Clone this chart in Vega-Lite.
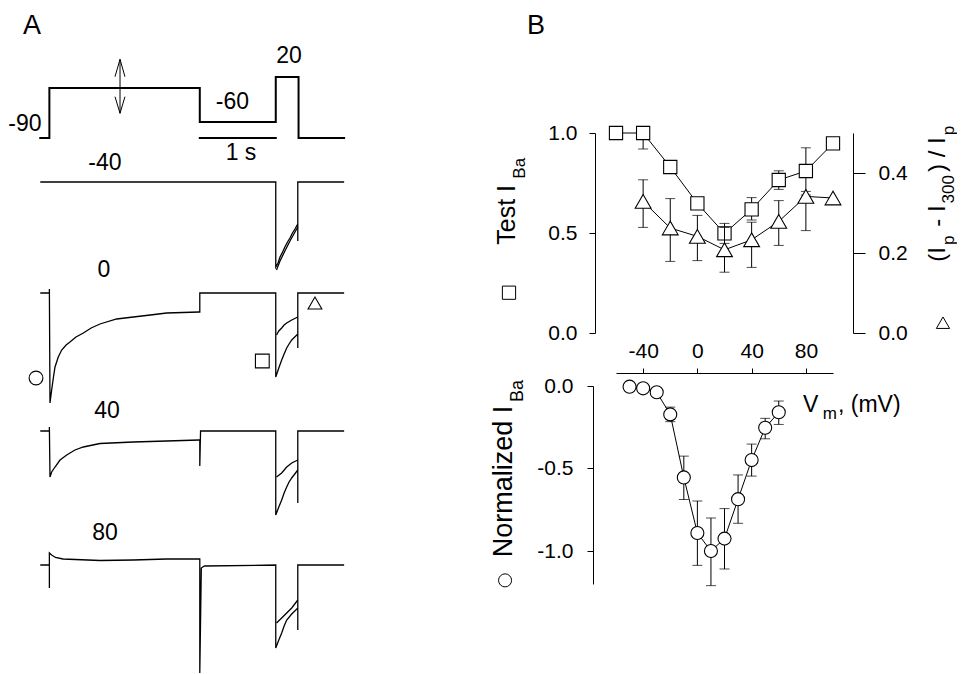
{
"$schema":"https://vega.github.io/schema/vega-lite/v6.json",
"padding":0,
"autosize":{"type":"pad"},
"background":"white",
"bounds":"flush",
"spacing":145,
"config":{"view":{"stroke":null},"font":"Liberation Sans",
 "axis":{"domainColor":"black","tickColor":"black","labelColor":"black","labelFont":"Liberation Sans","labelFontSize":21,"grid":false,"labelOverlap":false,"domainWidth":1,"tickWidth":1},
 "text":{"font":"Liberation Sans","color":"black"}},
"datasets":{
 "proto":[
  {"seg":"p","t":-0.12,"y":536},{"seg":"p","t":0,"y":536},{"seg":"p","t":0,"y":586},{"seg":"p","t":1.98,"y":586},{"seg":"p","t":1.98,"y":552},{"seg":"p","t":2.98,"y":552},{"seg":"p","t":2.98,"y":597},{"seg":"p","t":3.28,"y":597},{"seg":"p","t":3.28,"y":536},{"seg":"p","t":3.88,"y":536},
  {"seg":"s","t":1.98,"y":536},{"seg":"s","t":2.98,"y":536}
 ],
 "arrow":[
  {"seg":"a1","t":0.93,"y":614.7},{"seg":"a1","t":0.93,"y":560.7},
  {"seg":"a2","t":0.864,"y":597.3},{"seg":"a2","t":0.93,"y":614.7},{"seg":"a2","t":0.995,"y":597.3},
  {"seg":"a3","t":0.864,"y":577.3},{"seg":"a3","t":0.93,"y":560.7},{"seg":"a3","t":0.995,"y":577.3}
 ],
 "traces":[
  {"seg":"m40","t":-0.12,"y":492},{"seg":"m40","t":2.98,"y":492},{"seg":"m40","t":2.98,"y":407},{"seg":"m40","t":3.01,"y":411},{"seg":"m40","t":3.036,"y":417},{"seg":"m40","t":3.07,"y":422},{"seg":"m40","t":3.1,"y":427},{"seg":"m40","t":3.135,"y":432},{"seg":"m40","t":3.167,"y":436},{"seg":"m40","t":3.2,"y":441},{"seg":"m40","t":3.233,"y":445},{"seg":"m40","t":3.27,"y":450},{"seg":"m40","t":3.27,"y":433},{"seg":"m40","t":3.27,"y":492},{"seg":"m40","t":3.88,"y":492},
  {"seg":"m40b","t":2.99,"y":404},{"seg":"m40b","t":3.036,"y":413},{"seg":"m40b","t":3.1,"y":423},{"seg":"m40b","t":3.167,"y":433},{"seg":"m40b","t":3.233,"y":442},{"seg":"m40b","t":3.27,"y":447},
  {"seg":"z","t":-0.12,"y":381},{"seg":"z","t":0,"y":381},{"seg":"z","t":0,"y":385},{"seg":"z","t":0.008,"y":271},{"seg":"z","t":0.03,"y":284},{"seg":"z","t":0.052,"y":296},{"seg":"z","t":0.074,"y":307},{"seg":"z","t":0.117,"y":317},{"seg":"z","t":0.162,"y":324},{"seg":"z","t":0.22,"y":329},{"seg":"z","t":0.271,"y":332},{"seg":"z","t":0.35,"y":337},{"seg":"z","t":0.447,"y":341},{"seg":"z","t":0.55,"y":346},{"seg":"z","t":0.666,"y":350},{"seg":"z","t":0.886,"y":355},{"seg":"z","t":1.105,"y":357},{"seg":"z","t":1.33,"y":359},{"seg":"z","t":1.544,"y":361},{"seg":"z","t":1.97,"y":362},{"seg":"z","t":1.98,"y":362},{"seg":"z","t":1.98,"y":381},{"seg":"z","t":2.98,"y":381},{"seg":"z","t":2.98,"y":297},{"seg":"z","t":3.02,"y":306},{"seg":"z","t":3.058,"y":314},{"seg":"z","t":3.09,"y":320},{"seg":"z","t":3.124,"y":326},{"seg":"z","t":3.155,"y":330},{"seg":"z","t":3.19,"y":334},{"seg":"z","t":3.23,"y":337},{"seg":"z","t":3.27,"y":340},{"seg":"z","t":3.27,"y":326},{"seg":"z","t":3.27,"y":381},{"seg":"z","t":3.88,"y":381},
  {"seg":"zb","t":2.99,"y":339},{"seg":"zb","t":3.02,"y":343},{"seg":"zb","t":3.058,"y":346},{"seg":"zb","t":3.09,"y":349},{"seg":"zb","t":3.124,"y":351},{"seg":"zb","t":3.19,"y":354},{"seg":"zb","t":3.27,"y":357},
  {"seg":"f","t":-0.12,"y":243},{"seg":"f","t":0,"y":243},{"seg":"f","t":0,"y":247},{"seg":"f","t":0.008,"y":197},{"seg":"f","t":0.03,"y":202},{"seg":"f","t":0.074,"y":207},{"seg":"f","t":0.14,"y":214},{"seg":"f","t":0.228,"y":219},{"seg":"f","t":0.337,"y":224},{"seg":"f","t":0.447,"y":227},{"seg":"f","t":0.666,"y":230.5},{"seg":"f","t":1.105,"y":232},{"seg":"f","t":1.544,"y":233},{"seg":"f","t":1.97,"y":234},{"seg":"f","t":1.98,"y":234},{"seg":"f","t":1.98,"y":208},{"seg":"f","t":1.99,"y":243},{"seg":"f","t":2.98,"y":243},{"seg":"f","t":2.98,"y":159},{"seg":"f","t":3.02,"y":167},{"seg":"f","t":3.058,"y":174},{"seg":"f","t":3.09,"y":181},{"seg":"f","t":3.124,"y":187},{"seg":"f","t":3.155,"y":192},{"seg":"f","t":3.19,"y":196},{"seg":"f","t":3.23,"y":200},{"seg":"f","t":3.27,"y":204},{"seg":"f","t":3.27,"y":171},{"seg":"f","t":3.27,"y":243},{"seg":"f","t":3.88,"y":243},
  {"seg":"fb","t":2.99,"y":197},{"seg":"fb","t":3.058,"y":201},{"seg":"fb","t":3.124,"y":207},{"seg":"fb","t":3.19,"y":211},{"seg":"fb","t":3.27,"y":214},
  {"seg":"e","t":-0.12,"y":109},{"seg":"e","t":0,"y":109},{"seg":"e","t":0,"y":86},{"seg":"e","t":0,"y":121},{"seg":"e","t":0.03,"y":119},{"seg":"e","t":0.08,"y":116.5},{"seg":"e","t":0.18,"y":115},{"seg":"e","t":0.666,"y":113.5},{"seg":"e","t":1.105,"y":114},{"seg":"e","t":1.544,"y":115},{"seg":"e","t":1.97,"y":115},{"seg":"e","t":1.98,"y":115},{"seg":"e","t":1.98,"y":1},{"seg":"e","t":2.0,"y":106},{"seg":"e","t":2.04,"y":108},{"seg":"e","t":2.98,"y":109},{"seg":"e","t":2.98,"y":26},{"seg":"e","t":3.02,"y":34},{"seg":"e","t":3.058,"y":41},{"seg":"e","t":3.09,"y":48},{"seg":"e","t":3.124,"y":54},{"seg":"e","t":3.19,"y":60},{"seg":"e","t":3.27,"y":66},{"seg":"e","t":3.27,"y":44},{"seg":"e","t":3.27,"y":109},{"seg":"e","t":3.88,"y":109},
  {"seg":"eb","t":2.99,"y":51},{"seg":"eb","t":3.058,"y":56},{"seg":"eb","t":3.124,"y":61},{"seg":"eb","t":3.19,"y":66},{"seg":"eb","t":3.27,"y":74}
 ],
 "alabels":[
  {"t":-0.321,"y":543,"label":"-90"},{"t":2.41,"y":565,"label":"-60"},{"t":3.154,"y":611,"label":"20"},{"t":2.522,"y":514,"label":"1 s"},
  {"t":0.732,"y":504,"label":"-40"},{"t":0.719,"y":397,"label":"0"},{"t":0.758,"y":256,"label":"40"},{"t":0.732,"y":134,"label":"80"}
 ],
 "amarks":[
  {"t":-0.176,"y":296,"shape":"circle"},{"t":2.803,"y":313,"shape":"square"},{"t":3.496,"y":371,"shape":"triangle-up"}
 ],
 "sq":[
  {"V":-60,"v":1.0},{"V":-40,"v":1.0},{"V":-20,"v":0.83},{"V":0,"v":0.648},{"V":20,"v":0.498},{"V":40,"v":0.618},{"V":60,"v":0.765},{"V":80,"v":0.81},{"V":100,"v":0.948}
 ],
 "sqErr":[
  {"V":-40,"lo":0.92,"hi":1.0},{"V":-20,"lo":0.8,"hi":0.86},{"V":20,"lo":0.448,"hi":0.548},{"V":40,"lo":0.565,"hi":0.677},{"V":60,"lo":0.718,"hi":0.811},{"V":80,"lo":0.69,"hi":0.926}
 ],
 "tri":[
  {"V":-40,"w":0.329},{"V":-20,"w":0.2625},{"V":0,"w":0.2415},{"V":20,"w":0.208},{"V":40,"w":0.233},{"V":60,"w":0.279},{"V":80,"w":0.3415},{"V":100,"w":0.3375}
 ],
 "triErr":[
  {"V":-40,"lo":0.264,"hi":0.383},{"V":-20,"lo":0.179,"hi":0.336},{"V":0,"lo":0.181,"hi":0.294},{"V":20,"lo":0.152,"hi":0.264},{"V":40,"lo":0.164,"hi":0.277},{"V":60,"lo":0.219,"hi":0.331},{"V":80,"lo":0.256,"hi":0.354}
 ],
 "circ":[
  {"V":-50,"c":-0.004},{"V":-40,"c":-0.014},{"V":-30,"c":-0.038},{"V":-20,"c":-0.172},{"V":-10,"c":-0.554},{"V":0,"c":-0.891},{"V":10,"c":-1.0},{"V":20,"c":-0.925},{"V":30,"c":-0.686},{"V":40,"c":-0.449},{"V":50,"c":-0.253},{"V":60,"c":-0.159}
 ],
 "circErr":[
  {"V":-20,"lo":-0.216,"hi":-0.128},{"V":-10,"lo":-0.688,"hi":-0.425},{"V":0,"lo":-1.087,"hi":-0.697},{"V":10,"lo":-1.21,"hi":-0.8},{"V":20,"lo":-1.109,"hi":-0.743},{"V":30,"lo":-0.832,"hi":-0.539},{"V":40,"lo":-0.546,"hi":-0.352},{"V":50,"lo":-0.32,"hi":-0.196},{"V":60,"lo":-0.233,"hi":-0.091}
 ]
},
"hconcat":[
 {
  "width":471,"height":674,
  "encoding":{
   "x":{"field":"t","type":"quantitative","scale":{"domain":[-0.65,5.55],"nice":false,"zero":false},"axis":null},
   "y":{"field":"y","type":"quantitative","scale":{"domain":[0,674],"nice":false,"zero":false},"axis":null}
  },
  "layer":[
   {"data":{"name":"proto"},"mark":{"type":"line","color":"black","strokeWidth":2,"strokeJoin":"miter","strokeCap":"square"},"encoding":{"detail":{"field":"seg"},"order":{"value":null}}},
   {"data":{"name":"arrow"},"mark":{"type":"line","color":"black","strokeWidth":1},"encoding":{"detail":{"field":"seg"},"order":{"value":null}}},
   {"data":{"name":"traces"},"mark":{"type":"line","color":"black","strokeWidth":1.3},"encoding":{"detail":{"field":"seg"},"order":{"value":null}}},
   {"data":{"name":"alabels"},"mark":{"type":"text","fontSize":23,"align":"center","baseline":"alphabetic"},"encoding":{"text":{"field":"label"}}},
   {"data":{"values":[{"t":-0.229,"y":640,"label":"A"}]},"mark":{"type":"text","fontSize":27,"align":"center","baseline":"alphabetic"},"encoding":{"text":{"field":"label"}}},
   {"data":{"name":"amarks"},"mark":{"type":"point","filled":true,"fill":"white","stroke":"black","strokeWidth":1.1,"size":190,"opacity":1},
    "encoding":{"shape":{"field":"shape","type":"nominal","scale":{"domain":["circle","square","triangle-up"],"range":["circle","square","triangle-up"]},"legend":null}}}
  ]
 },
 {
  "spacing":53,
  "bounds":"flush",
  "vconcat":[
   {
    "width":217,"height":80,
    "data":{"values":[{"V":-125.6,"h":46,"label":"B"}]},
    "mark":{"type":"text","fontSize":27,"align":"left","baseline":"alphabetic"},
    "encoding":{
     "x":{"field":"V","type":"quantitative","scale":{"domain":[-60,100],"nice":false,"zero":false},"axis":null},
     "y":{"field":"h","type":"quantitative","scale":{"domain":[0,80],"nice":false,"zero":false},"axis":null},
     "text":{"field":"label"}
    }
   },
   {
    "width":217,"height":200,
    "resolve":{"scale":{"y":"independent"}},
    "layer":[
     {
      "encoding":{"x":{"field":"V","type":"quantitative","scale":{"domain":[-60,100],"nice":false,"zero":false},"axis":null}},
      "layer":[
       {"data":{"name":"sqErr"},"mark":{"type":"rule","color":"black","strokeWidth":1},
        "encoding":{"y":{"field":"lo","type":"quantitative","scale":{"domain":[0,1],"nice":false,"zero":false},"axis":{"orient":"left","offset":21,"values":[0,0.5,1],"format":".1f","tickSize":6,"labelPadding":12,"title":null}},"y2":{"field":"hi"}}},
       {"data":{"name":"sqErr"},"mark":{"type":"tick","orient":"horizontal","size":10,"thickness":1,"color":"black"},
        "encoding":{"y":{"field":"lo","type":"quantitative","axis":{"title":null}}}},
       {"data":{"name":"sqErr"},"mark":{"type":"tick","orient":"horizontal","size":10,"thickness":1,"color":"black"},
        "encoding":{"y":{"field":"hi","type":"quantitative","axis":{"title":null}}}},
       {"data":{"name":"sq"},"mark":{"type":"line","color":"black","strokeWidth":1},
        "encoding":{"y":{"field":"v","type":"quantitative","axis":{"title":null}}}},
       {"data":{"name":"sq"},"mark":{"type":"point","shape":"square","filled":true,"fill":"white","stroke":"black","strokeWidth":1.1,"size":175,"opacity":1},
        "encoding":{"y":{"field":"v","type":"quantitative","axis":{"title":null}}}},
       {"data":{"values":[{"V":-134.5,"v":0.4415,"s":"Test I"}]},
        "mark":{"type":"text","fontSize":25,"angle":270,"align":"left","baseline":"alphabetic"},
        "encoding":{"y":{"field":"v","type":"quantitative","axis":{"title":null}},"text":{"field":"s"}}},
       {"data":{"values":[{"V":182.6,"v":0.3565,"s":"(I"},{"V":182.6,"v":0.5315,"s":"- I"},{"V":182.6,"v":0.805,"s":") / I"}]},
        "mark":{"type":"text","fontSize":24,"angle":270,"align":"left","baseline":"alphabetic"},
        "encoding":{"y":{"field":"v","type":"quantitative","axis":{"title":null}},"text":{"field":"s"}}},
       {"data":{"values":[{"V":-127.1,"v":0.7715,"s":"Ba"},{"V":189.2,"v":0.44,"s":"p"},{"V":189.2,"v":0.648,"s":"300"},{"V":189.2,"v":0.9885,"s":"p"}]},
        "mark":{"type":"text","fontSize":17,"angle":270,"align":"left","baseline":"alphabetic"},
        "encoding":{"y":{"field":"v","type":"quantitative","axis":{"title":null}},"text":{"field":"s"}}},
       {"data":{"values":[{"V":-138.9,"v":0.2015,"shape":"square"},{"V":181.1,"v":0.0515,"shape":"triangle-up"}]},
        "mark":{"type":"point","filled":true,"fill":"white","stroke":"black","strokeWidth":1,"size":175,"opacity":1},
        "encoding":{"y":{"field":"v","type":"quantitative","axis":{"title":null}},"shape":{"field":"shape","type":"nominal","scale":{"domain":["square","triangle-up"],"range":["square","triangle-up"]},"legend":null}}}
      ]
     },
     {
      "encoding":{"x":{"field":"V","type":"quantitative","scale":{"domain":[-60,100],"nice":false,"zero":false},"axis":null}},
      "layer":[
       {"data":{"name":"triErr"},"mark":{"type":"rule","color":"black","strokeWidth":1},
        "encoding":{"y":{"field":"lo","type":"quantitative","scale":{"domain":[0,0.5],"nice":false,"zero":false},"axis":{"orient":"right","offset":20,"values":[0,0.2,0.4],"format":".1f","tickSize":12,"labelPadding":13,"title":null}},"y2":{"field":"hi"}}},
       {"data":{"name":"triErr"},"mark":{"type":"tick","orient":"horizontal","size":10,"thickness":1,"color":"black"},
        "encoding":{"y":{"field":"lo","type":"quantitative","axis":{"title":null}}}},
       {"data":{"name":"triErr"},"mark":{"type":"tick","orient":"horizontal","size":10,"thickness":1,"color":"black"},
        "encoding":{"y":{"field":"hi","type":"quantitative","axis":{"title":null}}}},
       {"data":{"name":"tri"},"mark":{"type":"line","color":"black","strokeWidth":1},
        "encoding":{"y":{"field":"w","type":"quantitative","axis":{"title":null}}}},
       {"data":{"name":"tri"},"mark":{"type":"point","shape":"triangle-up","filled":true,"fill":"white","stroke":"black","strokeWidth":1.1,"size":250,"opacity":1},
        "encoding":{"y":{"field":"w","type":"quantitative","axis":{"title":null}}}}
      ]
     }
    ]
   },
   {
    "width":217,"height":198,
    "encoding":{"x":{"field":"V","type":"quantitative","scale":{"domain":[-60,100],"nice":false,"zero":false},
      "axis":{"orient":"top","offset":13,"values":[-40,0,40,80],"tickSize":5,"labelPadding":7,"title":null,"labelExpr":"replace(datum.label, '\u2212', '-')"}}},
    "layer":[
     {"data":{"name":"circErr"},"mark":{"type":"rule","color":"black","strokeWidth":1},
      "encoding":{"y":{"field":"lo","type":"quantitative","scale":{"domain":[-1.2,0],"nice":false,"zero":false},"axis":{"orient":"left","offset":23,"values":[0,-0.5,-1],"format":".1f","tickSize":6,"labelPadding":14,"title":null,"labelExpr":"replace(datum.label, '\u2212', '-')"}},"y2":{"field":"hi"}}},
     {"data":{"name":"circErr"},"mark":{"type":"tick","orient":"horizontal","size":10,"thickness":1,"color":"black"},
      "encoding":{"y":{"field":"lo","type":"quantitative","axis":{"title":null}}}},
     {"data":{"name":"circErr"},"mark":{"type":"tick","orient":"horizontal","size":10,"thickness":1,"color":"black"},
      "encoding":{"y":{"field":"hi","type":"quantitative","axis":{"title":null}}}},
     {"data":{"name":"circ"},"mark":{"type":"line","color":"black","strokeWidth":1},
      "encoding":{"y":{"field":"c","type":"quantitative","axis":{"title":null}}}},
     {"data":{"name":"circ"},"mark":{"type":"point","shape":"circle","filled":true,"fill":"white","stroke":"black","strokeWidth":1.1,"size":170,"opacity":1},
      "encoding":{"y":{"field":"c","type":"quantitative","axis":{"title":null}}}},
     {"data":{"values":[{"V":-136.7,"c":-1.038,"s":"Normalized I"}]},
      "mark":{"type":"text","fontSize":27,"angle":270,"align":"left","baseline":"alphabetic"},
      "encoding":{"y":{"field":"c","type":"quantitative","axis":{"title":null}},"text":{"field":"s"}}},
     {"data":{"values":[{"V":-128.6,"c":-0.097,"s":"Ba"}]},
      "mark":{"type":"text","fontSize":18,"angle":270,"align":"left","baseline":"alphabetic"},
      "encoding":{"y":{"field":"c","type":"quantitative","axis":{"title":null}},"text":{"field":"s"}}},
     {"data":{"values":[{"V":77.9,"c":-0.158,"s":"V"},{"V":103.7,"c":-0.158,"s":", (mV)"}]},
      "mark":{"type":"text","fontSize":23,"align":"left","baseline":"alphabetic"},
      "encoding":{"y":{"field":"c","type":"quantitative","axis":{"title":null}},"text":{"field":"s"}}},
     {"data":{"values":[{"V":92.5,"c":-0.2,"s":"m"}]},
      "mark":{"type":"text","fontSize":17,"align":"left","baseline":"alphabetic"},
      "encoding":{"y":{"field":"c","type":"quantitative","axis":{"title":null}},"text":{"field":"s"}}},
     {"data":{"values":[{"V":-141.8,"c":-1.178}]},
      "mark":{"type":"point","shape":"circle","filled":true,"fill":"white","stroke":"black","strokeWidth":1,"size":170,"opacity":1},
      "encoding":{"y":{"field":"c","type":"quantitative","axis":{"title":null}}}}
    ]
   }
  ]
 }
]
}
